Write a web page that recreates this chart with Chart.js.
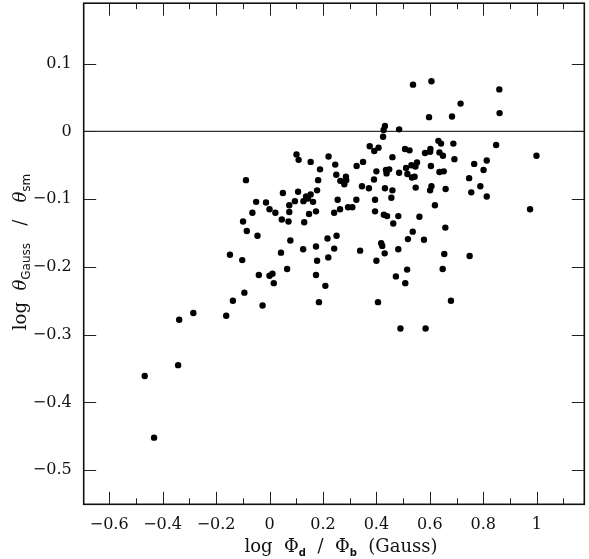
<!DOCTYPE html>
<html><head><meta charset="utf-8">
<script src="https://cdn.jsdelivr.net/npm/chart.js@4"></script>
<style>html,body{margin:0;padding:0;background:#fff}canvas{display:block}</style>
</head><body>
<canvas id="c" width="589" height="559"></canvas>
<script>
// log Phi_d / Phi_b (Gauss)
const xValues = [
 0.537,0.606,0.860,0.715,0.597,0.683,0.861,0.432,0.427,0.485,
 0.425,0.375,0.392,0.408,0.507,0.524,0.460,0.582,0.601,0.602,
 0.632,0.642,0.688,0.636,0.649,0.692,0.848,0.999,0.766,0.813,
 0.801,0.436,0.448,0.438,0.485,0.511,0.531,0.552,0.546,0.516,
 0.533,0.543,0.604,0.636,0.652,0.747,0.789,0.755,0.813,0.432,
 0.460,0.456,0.547,0.606,0.601,0.659,0.428,0.440,0.482,0.463,
 0.561,0.619,0.975,0.536,0.518,0.578,0.658,0.418,0.422,0.431,
 0.482,0.654,0.749,0.515,0.648,0.473,0.508,0.400,0.391,0.395,
 0.395,0.400,0.101,0.109,0.154,0.221,0.246,0.189,0.350,0.326,
 -0.088,0.182,0.250,0.265,0.286,0.287,0.280,0.346,0.372,0.050,
 0.107,0.178,0.154,0.137,0.144,0.127,0.163,0.095,-0.050,-0.013,
 0.074,0.255,0.325,0.000,0.022,-0.064,0.074,0.174,0.148,0.264,
 0.294,0.310,0.242,0.046,0.071,0.130,-0.099,-0.085,-0.045,0.078,
 0.217,0.251,0.126,0.174,0.242,0.339,0.043,-0.148,-0.102,0.178,
 0.220,0.066,-0.040,0.000,0.011,0.174,0.016,-0.338,-0.285,-0.162,
 -0.137,-0.094,-0.026,0.209,0.185,0.406,0.679,0.490,0.584,-0.342,
 -0.467,-0.432
];
// log theta_Gauss / theta_sm
const yValues = [
 0.069,0.074,0.062,0.041,0.021,0.022,0.027,0.008,0.002,0.003,
 -0.008,-0.022,-0.029,-0.024,-0.026,-0.028,-0.038,-0.032,-0.030,-0.026,
 -0.014,-0.018,-0.018,-0.031,-0.036,-0.041,-0.020,-0.036,-0.048,-0.043,
 -0.057,-0.057,-0.056,-0.062,-0.061,-0.054,-0.050,-0.046,-0.052,-0.063,
 -0.068,-0.067,-0.051,-0.060,-0.059,-0.069,-0.081,-0.090,-0.096,-0.084,
 -0.087,-0.098,-0.083,-0.081,-0.087,-0.085,-0.123,-0.125,-0.125,-0.136,
 -0.126,-0.109,-0.115,-0.148,-0.159,-0.160,-0.142,-0.165,-0.169,-0.180,
 -0.174,-0.181,-0.184,-0.204,-0.203,-0.214,-0.224,-0.059,-0.071,-0.101,
 -0.118,-0.191,-0.034,-0.042,-0.045,-0.037,-0.049,-0.056,-0.045,-0.051,
 -0.072,-0.072,-0.064,-0.073,-0.067,-0.072,-0.078,-0.081,-0.084,-0.091,
 -0.089,-0.087,-0.093,-0.096,-0.099,-0.103,-0.104,-0.103,-0.104,-0.105,
 -0.109,-0.101,-0.101,-0.115,-0.120,-0.120,-0.119,-0.118,-0.122,-0.115,
 -0.112,-0.112,-0.120,-0.130,-0.133,-0.134,-0.133,-0.147,-0.154,-0.161,
 -0.158,-0.154,-0.174,-0.170,-0.173,-0.176,-0.179,-0.182,-0.190,-0.191,
 -0.186,-0.203,-0.212,-0.213,-0.210,-0.212,-0.224,-0.278,-0.268,-0.272,
 -0.250,-0.238,-0.257,-0.228,-0.252,-0.252,-0.250,-0.291,-0.291,-0.345,
 -0.361,-0.452
];
const xTickValues = [-0.6,-0.4,-0.2,0,0.2,0.4,0.6,0.8,1];
const xMinorTickValues = [-0.5,-0.3,-0.1,0.1,0.3,0.5,0.7,0.9,1.1];
const yTickValues = [0.1,0,-0.1,-0.2,-0.3,-0.4,-0.5];
const xRange = [-0.6953, 1.178];
const yRange = [-0.5504, 0.1892];

const points = xValues.map((x,i)=>({x:x, y:yValues[i]}));

function fmt(v){
  if (Math.abs(v) < 1e-9) return '0';
  const a = Math.abs(v);
  const s = (Math.abs(a - Math.round(a)) < 1e-9) ? String(Math.round(a)) : a.toFixed(1);
  return (v < 0 ? '\u2212' : '') + s;
}

const SERIF = "'DejaVu Serif', serif";
const SANS = "'DejaVu Sans', sans-serif";

function drawRich(ctx, parts, x, y, align){
  let total = 0;
  parts.forEach(p=>{ctx.font = p.font; p.w = ctx.measureText(p.t).width; total += p.w;});
  let cx = align === 'center' ? x - total/2 : x;
  parts.forEach(p=>{
    ctx.font = p.font;
    ctx.fillText(p.t, cx, y + (p.dy||0));
    cx += p.w;
  });
}

const framePlugin = {
  id:'frame',
  beforeDatasetsDraw(chart){
    const {ctx, chartArea:a, scales:{y}} = chart;
    const y0 = y.getPixelForValue(0);
    ctx.save();
    ctx.strokeStyle = '#333';
    ctx.lineWidth = 1.3;
    ctx.beginPath(); ctx.moveTo(a.left, y0); ctx.lineTo(a.right, y0); ctx.stroke();
    ctx.restore();
  },
  afterDraw(chart){
    const {ctx, chartArea:a, scales:{x, y}} = chart;
    ctx.save();
    ctx.strokeStyle = '#222';
    ctx.lineWidth = 1;
    ctx.beginPath();
    xTickValues.forEach(v=>{
      const px = Math.round(x.getPixelForValue(v)) + 0.5;
      ctx.moveTo(px, a.bottom); ctx.lineTo(px, a.bottom - 12.5);
      ctx.moveTo(px, a.top); ctx.lineTo(px, a.top + 12.5);
    });
    xMinorTickValues.forEach(v=>{
      const px = Math.round(x.getPixelForValue(v)) + 0.5;
      ctx.moveTo(px, a.bottom); ctx.lineTo(px, a.bottom - 6);
      ctx.moveTo(px, a.top); ctx.lineTo(px, a.top + 6);
    });
    yTickValues.forEach(v=>{
      const py = Math.round(y.getPixelForValue(v)) + 0.5;
      ctx.moveTo(a.left, py); ctx.lineTo(a.left + 12.5, py);
      ctx.moveTo(a.right, py); ctx.lineTo(a.right - 12.5, py);
    });
    ctx.stroke();
    ctx.lineWidth = 1.6;
    ctx.strokeStyle = '#111';
    ctx.strokeRect(a.left, a.top, a.right - a.left, a.bottom - a.top);

    // axis titles
    ctx.fillStyle = '#111';
    ctx.textBaseline = 'alphabetic';
    drawRich(ctx, [
      {t:'log  \u03A6', font:'18px ' + SERIF},
      {t:'d', font:'bold 10px ' + SANS, dy:4},
      {t:'  /  \u03A6', font:'18px ' + SERIF},
      {t:'b', font:'bold 10px ' + SANS, dy:4},
      {t:'  (Gauss)', font:'18px ' + SERIF}
    ], 341, 552, 'center');

    ctx.translate(26, 252);
    ctx.rotate(-Math.PI/2);
    drawRich(ctx, [
      {t:'log  ', font:'18px ' + SERIF},
      {t:'\u03B8', font:'italic 18px ' + SERIF},
      {t:'Gauss', font:'12px ' + SANS, dy:4},
      {t:'   /   ', font:'18px ' + SERIF},
      {t:'\u03B8', font:'italic 18px ' + SERIF},
      {t:'sm', font:'12px ' + SANS, dy:4}
    ], 0, 0, 'center');
    ctx.restore();
  }
};

new Chart(document.getElementById('c'), {
  type:'scatter',
  data:{datasets:[{
    data: points,
    backgroundColor:'#000',
    borderWidth:0,
    pointRadius:3.2,
    pointHoverRadius:3.2
  }]},
  options:{
    responsive:false,
    animation:false,
    devicePixelRatio:1,
    layout:{padding:{left:0, right:4.7, top:1, bottom:0}},
    plugins:{legend:{display:false}, tooltip:{enabled:false}},
    scales:{
      x:{
        type:'linear', min:xRange[0], max:xRange[1],
        grid:{display:false, drawTicks:false},
        border:{display:false},
        afterBuildTicks:s=>{s.ticks = xTickValues.map(v=>({value:v}));},
        afterFit:s=>{s.height = 54.7; s.paddingLeft = 0; s.paddingRight = 0;},
        ticks:{padding:11, autoSkip:false, maxRotation:0, color:'#111',
               font:{family:SERIF, size:16}, callback:v=>fmt(v)}
      },
      y:{
        type:'linear', min:yRange[0], max:yRange[1],
        grid:{display:false, drawTicks:false},
        border:{display:false},
        afterBuildTicks:s=>{s.ticks = yTickValues.map(v=>({value:v}));},
        afterFit:s=>{s.width = 83.7; s.paddingTop = 0; s.paddingBottom = 0;},
        ticks:{padding:12, autoSkip:false, color:'#111',
               font:{family:SERIF, size:16}, callback:v=>fmt(v)}
      }
    }
  },
  plugins:[framePlugin]
});
</script>
</body></html>
